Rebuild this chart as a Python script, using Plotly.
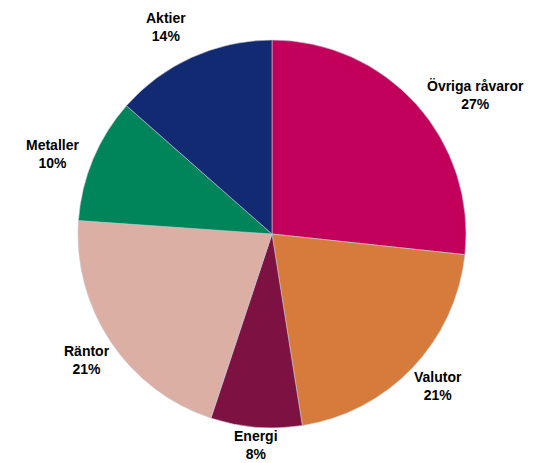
import math
import plotly.graph_objects as go

labels = ["Övriga råvaror", "Valutor", "Energi", "Räntor", "Metaller", "Aktier"]
values = [26.7, 20.8, 7.6, 21.0, 10.4, 13.5]
colors = ["#C2005B", "#D67B3B", "#7C1142", "#DBAFA4", "#00845A", "#112A72"]

W, H = 540, 463
cx, cy, R = 272, 234, 194

fig = go.Figure(go.Pie(
    labels=labels, values=values, sort=False, direction="clockwise", rotation=0,
    marker=dict(colors=colors, line=dict(color="#c8c8d0", width=0.6)),
    textinfo="none", hoverinfo="label+percent", showlegend=False,
    domain=dict(x=[(cx - R) / W, (cx + R) / W], y=[(H - cy - R) / H, (H - cy + R) / H]),
))

total = sum(values)
cum = 0.0
annotations = []
for lab, v in zip(labels, values):
    mid = (cum + v / 2) / total * 2 * math.pi
    cum += v
    s, c = math.sin(mid), math.cos(mid)
    xa = "left" if s > 0.35 else ("right" if s < -0.35 else "center")
    if c > 0.8:
        ya, r = "bottom", R * 1.07
    elif c < -0.5:
        ya, r = "top", R * 1.0
    else:
        ya, r = "middle", R * 1.07
    px, py = cx + r * s, cy - r * c
    pct = round(v / total * 100)
    annotations.append(dict(
        x=px / W, y=1 - py / H, xref="paper", yref="paper",
        text=f"<b>{lab}<br>{pct}%</b>", showarrow=False,
        xanchor=xa, yanchor=ya, align="center", borderpad=0,
        font=dict(family="Liberation Sans, Arial, sans-serif", size=14, color="#000000"),
    ))

fig.update_layout(
    width=W, height=H, margin=dict(l=0, r=0, t=0, b=0),
    paper_bgcolor="white", plot_bgcolor="white",
    annotations=annotations,
)
fig.write_html("out.html", config={"displayModeBar": False},
               post_script="document.body.style.margin='0';")
